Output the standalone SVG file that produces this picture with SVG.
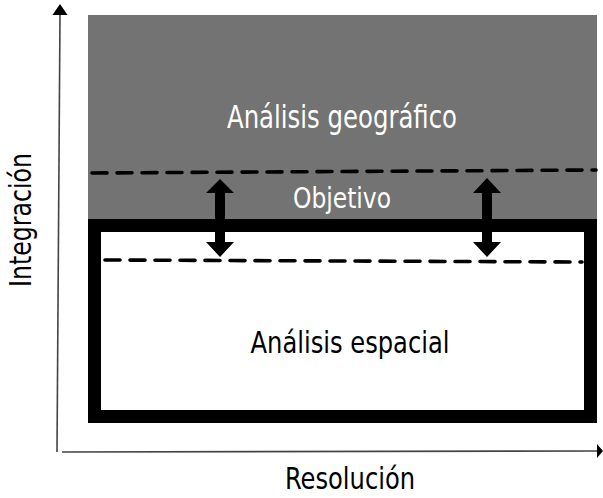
<svg xmlns="http://www.w3.org/2000/svg" width="603" height="498" viewBox="0 0 603 498">
<style>
.t{font-family:"Liberation Sans Narrow","DejaVu Sans Condensed","Liberation Sans",sans-serif;}
.w{fill:#ffffff;}
.b{fill:#000000;}
.dash{stroke:#000;stroke-width:3.6;stroke-dasharray:15 10;stroke-linecap:round;fill:none;}
.axis{stroke:#444;stroke-width:1.6;fill:none;}
</style>
<rect width="603" height="498" fill="#ffffff"/>
<g id="geografico">
<rect x="88" y="15" width="509" height="205" fill="#737373"/>
<text class="t w" x="342" y="128" font-size="32" text-anchor="middle" textLength="230" lengthAdjust="spacingAndGlyphs">Análisis geográfico</text>
</g>
<g id="espacial">
<rect x="94.5" y="225.5" width="496" height="191" fill="#ffffff" stroke="#000" stroke-width="13"/>
<text class="t b" x="350" y="353" font-size="30" text-anchor="middle" textLength="199" lengthAdjust="spacingAndGlyphs">Análisis espacial</text>
</g>
<g id="objetivo">
<text class="t w" x="342" y="208" font-size="28" text-anchor="middle" textLength="98" lengthAdjust="spacingAndGlyphs">Objetivo</text>
</g>
<g id="connectors">
<line class="dash" x1="92" y1="173" x2="596" y2="170"/>
<line class="dash" x1="105" y1="260" x2="582" y2="262"/>
<polygon fill="#000" points="220,179 234,193 225,193 225,242 234,242 220,257 206,242 215,242 215,193 206,193"/>
<polygon fill="#000" points="487,178 501,193 492,193 492,242 501,242 487,257 473,242 482,242 482,193 473,193"/>
<line class="axis" x1="60" y1="14" x2="57" y2="452"/>
<polygon fill="#000" points="60,4 67.5,15 52.5,15"/>
<line class="axis" x1="62" y1="452" x2="597" y2="451"/>
<polygon fill="#000" points="603,451 597,444 597,458"/>
</g>
<g id="labels">
<text class="t b" transform="translate(31,220) rotate(-90)" font-size="31" text-anchor="middle" textLength="134" lengthAdjust="spacingAndGlyphs">Integración</text>
<text class="t b" x="350" y="489" font-size="30" text-anchor="middle" textLength="130" lengthAdjust="spacingAndGlyphs">Resolución</text>
</g>
</svg>
